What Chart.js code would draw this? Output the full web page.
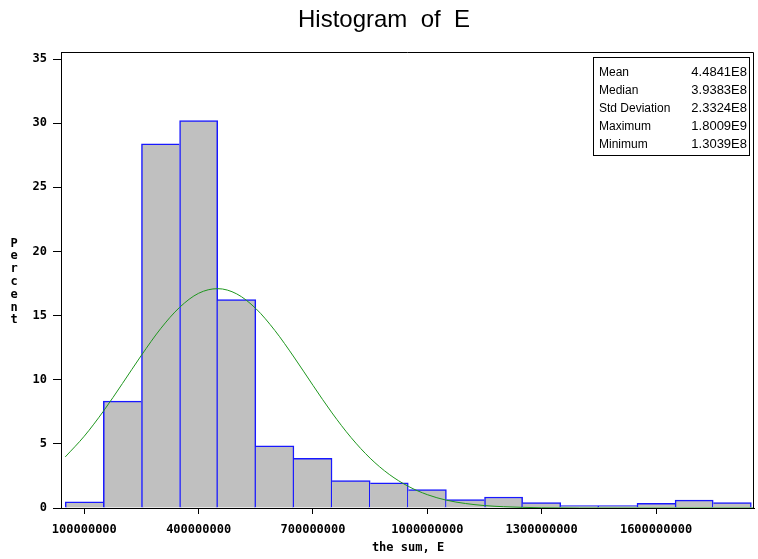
<!DOCTYPE html>
<html>
<head>
<meta charset="utf-8">
<script src="https://cdn.jsdelivr.net/npm/chart.js@4.4.1/dist/chart.umd.min.js"></script>
<style>
  html, body { margin: 0; padding: 0; background: #fff; }
  #wrap { width: 758px; height: 559px; }
</style>
</head>
<body>
<div id="wrap"><canvas id="c" width="758" height="559"></canvas></div>
<script>
// Histogram bins (midpoints) and their percentages
const binMids = [100000000, 200000000, 300000000, 400000000, 500000000, 600000000,
  700000000, 800000000, 900000000, 1000000000, 1100000000, 1200000000,
  1300000000, 1400000000, 1500000000, 1600000000, 1700000000, 1800000000];
const binPercents = [0.49, 8.33, 28.4, 30.2, 16.25, 4.85, 3.87, 2.13, 1.97, 1.43,
  0.65, 0.86, 0.42, 0.18, 0.18, 0.37, 0.62, 0.42];

// Fitted normal curve, sampled every 50 million
const curveX = [50000000, 100000000, 150000000, 200000000, 250000000, 300000000,
  350000000, 400000000, 450000000, 500000000, 550000000, 600000000, 650000000,
  700000000, 750000000, 800000000, 850000000, 900000000, 950000000, 1000000000,
  1050000000, 1100000000, 1150000000, 1200000000, 1250000000, 1300000000,
  1350000000, 1400000000, 1500000000, 1600000000, 1700000000, 1857000000];
const curveY = [3.98, 5.6, 7.54, 9.7, 11.91, 13.97, 15.64, 16.74, 17.1, 16.69,
  15.55, 13.84, 11.77, 9.56, 7.41, 5.49, 3.88, 2.62, 1.69, 1.04, 0.61, 0.35,
  0.19, 0.1, 0.05, 0.02, 0.01, 0, 0, 0, 0, 0];

// Axis ticks
const xTicks = [100000000, 400000000, 700000000, 1000000000, 1300000000, 1600000000];
const yTicks = [0, 5, 10, 15, 20, 25, 30, 35];

// Summary statistics inset
const statLabels = ['Mean', 'Median', 'Std Deviation', 'Maximum', 'Minimum'];
const statValues = ['4.4841E8', '3.9383E8', '2.3324E8', '1.8009E9', '1.3039E8'];

const titleText = 'Histogram  of  E';
const xTitle = 'the sum, E';
const yTitle = 'Percent';

const tickFont = { family: '"DejaVu Sans Mono"', size: 12, weight: 'bold' };

// Outline width for bars; a shared edge is drawn once, by the taller bar
const EDGE = 1.5;
function barEdges(ctx) {
  const i = ctx.dataIndex;
  const v = binPercents[i];
  const last = binPercents.length - 1;
  return {
    top: EDGE,
    bottom: 0,
    left: (i === 0 || binPercents[i - 1] < v) ? EDGE : 0,
    right: (i === last || binPercents[i + 1] <= v) ? EDGE : 0
  };
}

const decor = {
  id: 'decor',
  afterDraw(chart) {
    const ctx = chart.ctx;
    const a = chart.chartArea;
    ctx.save();
    // frame top and right
    ctx.strokeStyle = '#000';
    ctx.lineWidth = 1;
    ctx.beginPath();
    ctx.moveTo(a.left, a.top + 0.5);
    ctx.lineTo(a.right - 0.5, a.top + 0.5);
    ctx.lineTo(a.right - 0.5, a.bottom);
    ctx.stroke();

    // title
    ctx.fillStyle = '#000';
    ctx.font = '24px "Liberation Sans"';
    ctx.textAlign = 'center';
    ctx.textBaseline = 'middle';
    ctx.fillText(titleText, 384, 20);

    // x axis title
    ctx.font = 'bold 12px "DejaVu Sans Mono"';
    ctx.fillText(xTitle, 408, 548);

    // y axis title, letters stacked
    for (let i = 0; i < yTitle.length; i++) {
      ctx.fillText(yTitle[i], 14, 243.5 + i * 12.8);
    }

    // statistics box
    const bx = 593.5, by = 57.5, bw = 156, bh = 98;
    ctx.fillStyle = '#fff';
    ctx.fillRect(bx, by, bw, bh);
    ctx.strokeRect(bx, by, bw, bh);
    ctx.fillStyle = '#000';
    for (let i = 0; i < statLabels.length; i++) {
      const y = 72.3 + i * 18;
      ctx.font = '12px "Liberation Sans"';
      ctx.textAlign = 'left';
      ctx.fillText(statLabels[i], 599, y);
      ctx.font = '13px "Liberation Sans"';
      ctx.textAlign = 'right';
      ctx.fillText(statValues[i], 747, y);
    }
    ctx.restore();
  }
};

new Chart(document.getElementById('c'), {
  data: {
    datasets: [
      {
        type: 'line',
        data: curveX.map((x, i) => ({ x: x, y: curveY[i] })),
        borderColor: 'rgb(30,150,30)',
        borderWidth: 1,
        pointRadius: 0,
        cubicInterpolationMode: 'monotone',
        fill: false,
        order: 0
      },
      {
        type: 'bar',
        data: binMids.map((x, i) => ({ x: x, y: binPercents[i] })),
        backgroundColor: '#C0C0C0',
        borderColor: '#1818FF',
        borderWidth: barEdges,
        barPercentage: 1,
        categoryPercentage: 1,
        order: 1
      }
    ]
  },
  options: {
    responsive: false,
    animation: false,
    devicePixelRatio: 1,
    layout: { padding: { left: 0, right: 4, top: 52, bottom: 0 } },
    plugins: { legend: { display: false }, tooltip: { enabled: false }, title: { display: false } },
    scales: {
      x: {
        type: 'linear',
        offset: false,
        min: 38900000,
        max: 1857000000,
        afterBuildTicks: s => { s.ticks = xTicks.map(v => ({ value: v })); },
        afterFit: s => { s.height = 51; },
        grid: { offset: false, drawOnChartArea: false, tickLength: 6, color: '#000', tickColor: '#000' },
        border: { display: true, color: '#000', width: 1 },
        ticks: {
          color: '#000', font: tickFont, padding: 9, maxRotation: 0, autoSkip: false,
          callback: v => String(v)
        }
      },
      y: {
        type: 'linear',
        min: 0,
        max: 35.55,
        afterBuildTicks: s => { s.ticks = yTicks.map(v => ({ value: v })); },
        afterFit: s => { s.width = 61; },
        grid: { drawOnChartArea: false, tickLength: 8, color: '#000', tickColor: '#000' },
        border: { display: true, color: '#000', width: 1 },
        ticks: { color: '#000', font: tickFont, padding: 6, callback: v => String(v) }
      }
    }
  },
  plugins: [decor]
});
</script>
</body>
</html>
